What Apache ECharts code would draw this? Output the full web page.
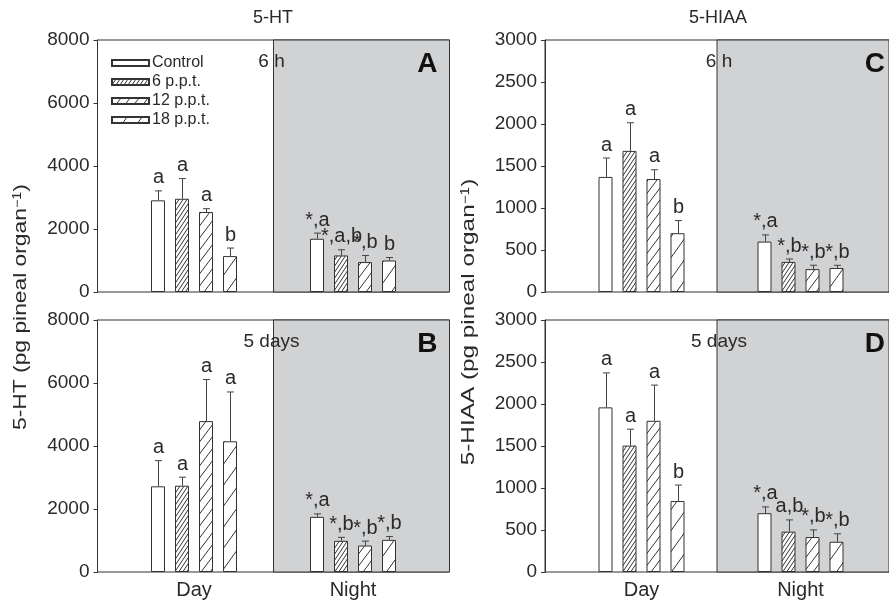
<!DOCTYPE html>
<html>
<head>
<meta charset="utf-8">
<script src="https://cdn.jsdelivr.net/npm/echarts@6/dist/echarts.min.js"></script>
<style>
html, body { margin: 0; padding: 0; background: #fff; }
#chart { width: 889px; height: 601px; }
</style>
</head>
<body>
<div id="chart"></div>
<script>
const periods = ['Day', 'Night']
const groups = ['Control', '6 p.p.t.', '12 p.p.t.', '18 p.p.t.']

// 5-HT, 6 h (panel A)
const htHourMean = [[2910, 2960, 2540, 1140], [1690, 1160, 950, 1000]]
const htHourSE = [[300, 640, 105, 255], [180, 180, 210, 95]]
const htHourLetters = [['a', 'a', 'a', 'b'], ['*,a', '*,a,b', '*,b', 'b']]

// 5-HT, 5 days (panel B)
const htDayMean = [[2720, 2740, 4790, 4150], [1750, 990, 840, 1020]]
const htDaySE = [[815, 270, 1320, 1565], [95, 110, 140, 105]]
const htDayLetters = [['a', 'a', 'a', 'a'], ['*,a', '*,b', '*,b', '*,b']]

// 5-HIAA, 6 h (panel C)
const hiaaHourMean = [[1370, 1680, 1345, 700], [600, 358, 272, 286]]
const hiaaHourSE = [[225, 335, 110, 150], [80, 35, 47, 32]]
const hiaaHourLetters = [['a', 'a', 'a', 'b'], ['*,a', '*,b', '*,b', '*,b']]

// 5-HIAA, 5 days (panel D)
const hiaaDayMean = [[1960, 1505, 1800, 845], [700, 480, 416, 360]]
const hiaaDaySE = [[410, 195, 425, 190], [75, 140, 85, 95]]
const hiaaDayLetters = [['a', 'a', 'a', 'b'], ['*,a', 'a,b', '*,b', '*,b']]

const htTicks = {max: 8000, interval: 2000}
const hiaaTicks = {max: 3000, interval: 500}

const FONT = 'Liberation Sans, Arial, Helvetica, sans-serif'
const INK = '#2a2a2a'
const SHADE = '#d1d2d4'

// panel boxes (outer frame); bars live in an inset grid
const panels = [
    {left: 97.5, top: 40, mean: htHourMean, se: htHourSE, letters: htHourLetters, ticks: htTicks, tag: 'A', note: '6 h', xLabels: false},
    {left: 97.5, top: 320, mean: htDayMean, se: htDaySE, letters: htDayLetters, ticks: htTicks, tag: 'B', note: '5 days', xLabels: true},
    {left: 545, top: 40, mean: hiaaHourMean, se: hiaaHourSE, letters: hiaaHourLetters, ticks: hiaaTicks, tag: 'C', note: '6 h', xLabels: false},
    {left: 545, top: 320, mean: hiaaDayMean, se: hiaaDaySE, letters: hiaaDayLetters, ticks: hiaaTicks, tag: 'D', note: '5 days', xLabels: true},
]
const W = 352, H = 252, INSET = 17
const BAR_W = 14, BAR_STEP = 24

function hatch(w, h) {
    const c = document.createElement('canvas')
    c.width = w
    c.height = h
    const ctx = c.getContext('2d')
    ctx.fillStyle = '#fff'
    ctx.fillRect(0, 0, w, h)
    ctx.strokeStyle = '#333'
    ctx.lineWidth = 1
    ctx.beginPath()
    for (const dx of [-w, 0, w]) {
        ctx.moveTo(dx, h)
        ctx.lineTo(dx + w, 0)
    }
    ctx.stroke()
    return c
}

const fills = [
    '#fff',
    {image: hatch(4, 6), repeat: 'repeat'},
    {image: hatch(9, 12), repeat: 'repeat'},
    {image: hatch(15, 21), repeat: 'repeat'},
]

const grid = [], xAxis = [], yAxis = [], series = [], graphic = []

panels.forEach((p, i) => {
    const outer = 2 * i, inner = 2 * i + 1
    grid.push({left: p.left, top: p.top, width: W, height: H, show: true, borderColor: '#333', borderWidth: 1, backgroundColor: 'transparent'})
    grid.push({left: p.left + INSET, top: p.top, width: W - 2 * INSET, height: H})

    xAxis.push({gridIndex: outer, type: 'value', min: 0, max: 1, show: false})
    xAxis.push({
        gridIndex: inner, type: 'category', data: periods,
        axisLine: {show: false}, axisTick: {show: false},
        axisLabel: {show: p.xLabels, fontSize: 20, color: INK, fontFamily: FONT, margin: 8}
    })
    yAxis.push({
        gridIndex: outer, type: 'value', min: 0, max: p.ticks.max, interval: p.ticks.interval,
        axisLine: {show: true, lineStyle: {color: '#333'}},
        axisTick: {show: true, length: 4, lineStyle: {color: '#333'}},
        axisLabel: {fontSize: 19, color: INK, fontFamily: FONT, margin: 8, formatter: v => String(v)},
        splitLine: {show: false}
    })
    yAxis.push({gridIndex: inner, type: 'value', min: 0, max: p.ticks.max, show: false})

    // night shading
    series.push({
        type: 'line', xAxisIndex: outer, yAxisIndex: outer, data: [], silent: true,
        markArea: {
            silent: true,
            itemStyle: {color: SHADE, borderColor: '#333', borderWidth: 1},
            data: [[{xAxis: 0.5}, {xAxis: 1}]]
        }
    })

    groups.forEach((g, k) => {
        series.push({
            name: g, type: 'bar', xAxisIndex: inner, yAxisIndex: inner,
            barWidth: BAR_W, barGap: ((BAR_STEP - BAR_W) / BAR_W * 100) + '%',
            itemStyle: {color: fills[k], borderColor: '#333', borderWidth: 1},
            data: periods.map((_, c) => p.mean[c][k]),
            z: 3
        })
    })

    const errData = [], errLabels = []
    periods.forEach((_, c) => {
        groups.forEach((_, k) => {
            errData.push([c, p.mean[c][k], p.mean[c][k] + p.se[c][k], k])
            errLabels.push(p.letters[c][k])
        })
    })
    series.push({
        type: 'custom', xAxisIndex: inner, yAxisIndex: inner, data: errData, z: 4, silent: true,
        renderItem: (params, api) => {
            const base = api.coord([api.value(0), api.value(1)])
            const top = api.coord([api.value(0), api.value(2)])
            const x = Math.round(base[0] + (api.value(3) - 1.5) * BAR_STEP) + 0.5
            const stroke = {stroke: '#444', lineWidth: 1}
            return {
                type: 'group',
                children: [
                    {type: 'line', shape: {x1: x, y1: base[1], x2: x, y2: top[1]}, style: stroke},
                    {type: 'line', shape: {x1: x - 3.5, y1: top[1], x2: x + 3.5, y2: top[1]}, style: stroke},
                    {
                        type: 'text', x: x, y: top[1] - 3,
                        style: {text: errLabels[params.dataIndex], fill: INK, fontSize: 20, fontFamily: FONT, align: 'center', verticalAlign: 'bottom'}
                    }
                ]
            }
        }
    })

    // panel tag and time note
    graphic.push({
        type: 'text', z: 100, x: p.left + W - 12, y: p.top + 24,
        style: {text: p.tag, fill: '#111', fontSize: 28, fontWeight: 'bold', fontFamily: FONT, align: 'right', verticalAlign: 'middle'}
    })
    graphic.push({
        type: 'text', z: 100, x: p.left + W / 2 - 2, y: p.top + 22,
        style: {text: p.note, fill: INK, fontSize: 19, fontFamily: FONT, align: 'center', verticalAlign: 'middle'}
    })
})

// column titles
graphic.push({type: 'text', z: 100, x: 273, y: 18, style: {text: '5-HT', fill: INK, fontSize: 18, fontFamily: FONT, align: 'center', verticalAlign: 'middle'}})
graphic.push({type: 'text', z: 100, x: 718, y: 18, style: {text: '5-HIAA', fill: INK, fontSize: 18, fontFamily: FONT, align: 'center', verticalAlign: 'middle'}})

// rotated y titles
const yTitle = (name, x, y, stretch) => ({
    type: 'text', z: 100, x: x, y: y, rotation: Math.PI / 2, scaleX: stretch,
    style: {
        text: '{a|' + name + ' (pg pineal organ}{s|−1}{a|)}',
        align: 'center', verticalAlign: 'middle',
        rich: {
            a: {fontSize: 19, fontFamily: FONT, fill: INK, color: INK},
            s: {fontSize: 12, fontFamily: FONT, fill: INK, color: INK, verticalAlign: 'top'}
        }
    }
})
graphic.push(yTitle('5-HT', 21, 307, 1.2))
graphic.push(yTitle('5-HIAA', 469, 322, 1.28))

const chart = echarts.init(document.getElementById('chart'), null, {renderer: 'canvas'})
chart.setOption({
    animation: false,
    backgroundColor: '#fff',
    legend: {
        data: groups, orient: 'vertical', left: 111, top: 55, padding: 0,
        itemWidth: 37, itemHeight: 6, itemGap: 3, icon: 'rect', selectedMode: false,
        textStyle: {fontSize: 16, color: INK, fontFamily: FONT, padding: [0, 0, 0, -2]}
    },
    grid, xAxis, yAxis, series, graphic
})
</script>
</body>
</html>
